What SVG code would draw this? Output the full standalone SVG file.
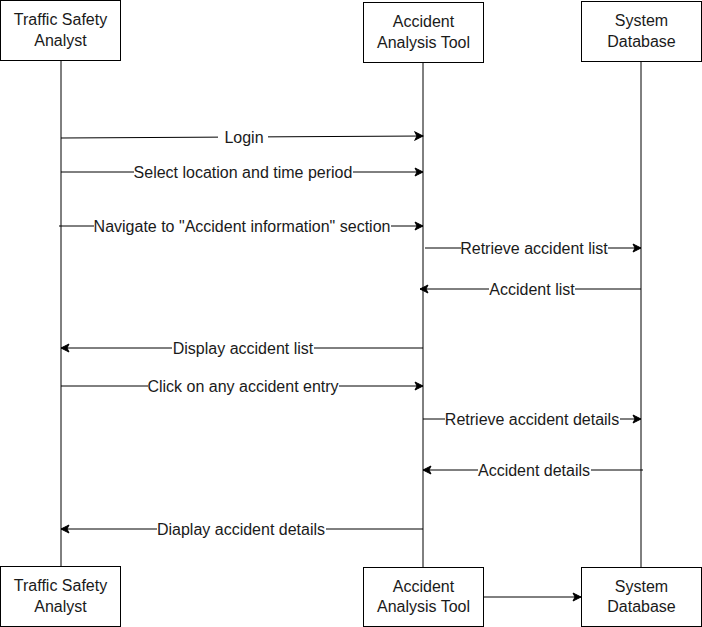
<svg xmlns="http://www.w3.org/2000/svg" width="702" height="627" viewBox="0 0 702 627">
<style>
.box{fill:#fff;stroke:#000;stroke-width:1}
.life{stroke:#000;stroke-width:1;fill:none}
.msg{stroke:#000;stroke-width:1;fill:none;marker-end:url(#ah)}
.t{font-family:"Liberation Sans",Arial,sans-serif;font-size:16px;fill:#1a1a1a;text-anchor:middle}
.lb{fill:#fff}
</style>
<defs>
<marker id="ah" markerWidth="10" markerHeight="10" refX="9" refY="5" orient="auto" markerUnits="userSpaceOnUse">
<path d="M1,1 L9,5 L1,9 L3,5 Z" fill="#000" stroke="#000" stroke-width="1"/>
</marker>
</defs>
<rect width="702" height="627" fill="#fff"/>
<g id="lifelines">
<line class="life" x1="61" y1="60" x2="61" y2="566"/>
<line class="life" x1="423" y1="62" x2="423" y2="567"/>
<line class="life" x1="641" y1="61" x2="641" y2="567"/>
</g>
<g id="connectors">
<line class="msg" x1="61" y1="138" x2="423" y2="136"/>
<line class="msg" x1="61" y1="172" x2="423" y2="172"/>
<line class="msg" x1="59" y1="226" x2="423" y2="226"/>
<line class="msg" x1="425" y1="248" x2="641" y2="248"/>
<line class="msg" x1="641" y1="289" x2="420" y2="289"/>
<line class="msg" x1="423" y1="348" x2="61" y2="348"/>
<line class="msg" x1="61" y1="386" x2="423" y2="386"/>
<line class="msg" x1="423" y1="419" x2="641" y2="419"/>
<line class="msg" x1="643" y1="470" x2="423" y2="470"/>
<line class="msg" x1="423" y1="529" x2="61" y2="529"/>
<line class="msg" x1="483" y1="597" x2="581" y2="597"/>
<g id="labels">
<rect class="lb" x="218" y="128" width="50" height="18"/>
<text class="t" x="244" y="143">Login</text>
<rect class="lb" x="134" y="163" width="219" height="18"/>
<text class="t" x="243" y="178">Select location and time period</text>
<rect class="lb" x="94" y="217" width="297" height="18"/>
<text class="t" x="242" y="232">Navigate to "Accident information" section</text>
<rect class="lb" x="461" y="239" width="147" height="18"/>
<text class="t" x="534" y="254">Retrieve accident list</text>
<rect class="lb" x="489" y="280" width="86" height="18"/>
<text class="t" x="532" y="295">Accident list</text>
<rect class="lb" x="172" y="339" width="142" height="18"/>
<text class="t" x="243" y="354">Display accident list</text>
<rect class="lb" x="148" y="377" width="191" height="18"/>
<text class="t" x="243" y="392">Click on any accident entry</text>
<rect class="lb" x="445" y="410" width="175" height="18"/>
<text class="t" x="532" y="425">Retrieve accident details</text>
<rect class="lb" x="478" y="461" width="113" height="18"/>
<text class="t" x="534" y="476">Accident details</text>
<rect class="lb" x="157" y="520" width="169" height="18"/>
<text class="t" x="241" y="535">Diaplay accident details</text>
</g>
</g>
<g id="analyst-top">
<rect class="box" x="0.5" y="0.5" width="120" height="60"/>
<text class="t" x="60.5" y="25">Traffic Safety</text>
<text class="t" x="60.5" y="46">Analyst</text>
</g>
<g id="tool-top">
<rect class="box" x="363.5" y="2.5" width="120" height="60"/>
<text class="t" x="423.5" y="27">Accident</text>
<text class="t" x="423.5" y="48">Analysis Tool</text>
</g>
<g id="db-top">
<rect class="box" x="581.5" y="1.5" width="120" height="60"/>
<text class="t" x="641.5" y="26">System</text>
<text class="t" x="641.5" y="47">Database</text>
</g>
<g id="analyst-bottom">
<rect class="box" x="0.5" y="566.5" width="120" height="60"/>
<text class="t" x="60.5" y="591">Traffic Safety</text>
<text class="t" x="60.5" y="612">Analyst</text>
</g>
<g id="tool-bottom">
<rect class="box" x="363.5" y="567.5" width="120" height="59"/>
<text class="t" x="423.5" y="592">Accident</text>
<text class="t" x="423.5" y="612">Analysis Tool</text>
</g>
<g id="db-bottom">
<rect class="box" x="581.5" y="567.5" width="120" height="59"/>
<text class="t" x="641.5" y="592">System</text>
<text class="t" x="641.5" y="612">Database</text>
</g>
</svg>
